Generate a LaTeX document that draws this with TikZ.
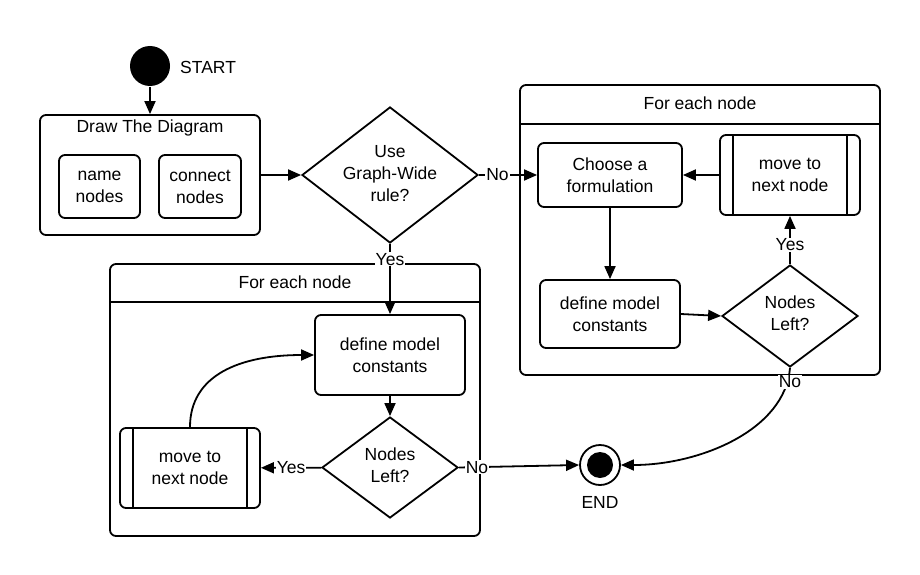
\documentclass[tikz,border=0pt]{standalone}
\usepackage{fontspec}
\setmainfont{Liberation Sans}
\usetikzlibrary{shapes.geometric,arrows.meta,calc}
\begin{document}
\begin{tikzpicture}[x=1pt,y=-1pt, line width=1.8pt,
  every node/.style={font=\fontsize{17.5}{22}\selectfont},
  box/.style={draw, rounded corners=6pt, align=center, inner sep=0pt},
  dia/.style={draw, diamond, inner sep=0pt},
  arr/.style={-{Triangle[length=13pt,width=11pt]}},
  lbl/.style={fill=white, inner sep=1pt}
]
\useasboundingbox (0,0) rectangle (920,575);

% big containers
\node[box, minimum width=220pt, minimum height=120pt] (drawbox) at (150,175) {};
\node (drawt) at (150,128) {Draw The Diagram};
\node[box, minimum width=360pt, minimum height=290pt] (rbox) at (700,230) {};
\draw ($(rbox.north west)+(0,40)$) -- ($(rbox.north east)+(0,40)$);
\node (rtitle) at (700,103) {For each node};
\node[box, minimum width=370pt, minimum height=272pt] (lbox) at (295,400) {};
\draw ($(lbox.north west)+(0,39)$) -- ($(lbox.north east)+(0,39)$);
\node (ltitle) at (295,282) {For each node};

% start
\node[circle, fill, minimum size=40pt, inner sep=0pt] (start) at (150,66) {};
\node[anchor=west] (starttxt) at (176,67) {START};

% draw the diagram
\node[box, minimum width=81pt, minimum height=63pt] (name) at (99.5,186.5) {name\\nodes};
\node[box, minimum width=82pt, minimum height=63pt] (connect) at (200,186.5) {connect\\nodes};

% decision
\node[dia, minimum width=176pt, minimum height=136pt] (d1) at (390,175) {};
\node[align=center] (d1t) at (390,174) {Use\\Graph-Wide\\rule?};

% right loop
\node[box, minimum width=144pt, minimum height=64pt] (choose) at (610,175) {Choose a\\formulation};
\node[box, minimum width=140pt, minimum height=80pt] (moveR) at (790,175) {move to\\next node};
\draw ($(moveR.north west)+(14,0)$) -- ($(moveR.south west)+(14,0)$);
\draw ($(moveR.north east)+(-14,0)$) -- ($(moveR.south east)+(-14,0)$);
\node[box, minimum width=140pt, minimum height=68pt] (defineR) at (610,314) {define model\\constants};
\node[dia, minimum width=136pt, minimum height=102pt] (diaR) at (790,316) {};
\node[align=center] (diaRt) at (790,313) {Nodes\\Left?};

% left loop
\node[box, minimum width=150pt, minimum height=80pt] (defineL) at (390,355) {define model\\constants};
\node[dia, minimum width=136pt, minimum height=101pt] (diaL) at (390,467.5) {};
\node[align=center] (diaLt) at (390,465) {Nodes\\Left?};
\node[box, minimum width=140pt, minimum height=80pt] (moveL) at (190,468) {move to\\next node};
\draw ($(moveL.north west)+(14,0)$) -- ($(moveL.south west)+(14,0)$);
\draw ($(moveL.north east)+(-14,0)$) -- ($(moveL.south east)+(-14,0)$);

% end
\node[circle, draw, minimum size=40pt, inner sep=0pt] (end) at (600,465) {};
\node[circle, fill, minimum size=26pt, inner sep=0pt] (endin) at (end) {};
\node (endt) at (600,502) {END};

% connectors
\draw[arr] (start) -- (drawbox);
\draw[arr] (drawbox) -- (d1);
\draw[arr] (d1) -- node[lbl, pos=0.32] {No} (choose);
\draw[arr] (d1) -- node[lbl, pos=0.22] {Yes} (defineL);
\draw[arr] (choose) -- (defineR);
\draw[arr] (defineR.east) -- (diaR.west);
\draw[arr] (diaR) -- node[lbl, pos=0.4] {Yes} (moveR);
\draw[arr] (moveR) -- (choose);
\draw[arr] (diaR.south) .. controls (785,430) and (700,465) .. (end.east);
\node[lbl] (noR) at (790,382) {No};
\draw[arr] (defineL) -- (diaL);
\draw[arr] (diaL) -- node[lbl, pos=0.5] {Yes} (moveL);
\draw[arr] (moveL.north) .. controls (190,375) and (240,355) .. (defineL.west);
\draw[arr] (diaL.east) -- node[lbl, pos=0.15] {No} (end.west);
\end{tikzpicture}
\end{document}
